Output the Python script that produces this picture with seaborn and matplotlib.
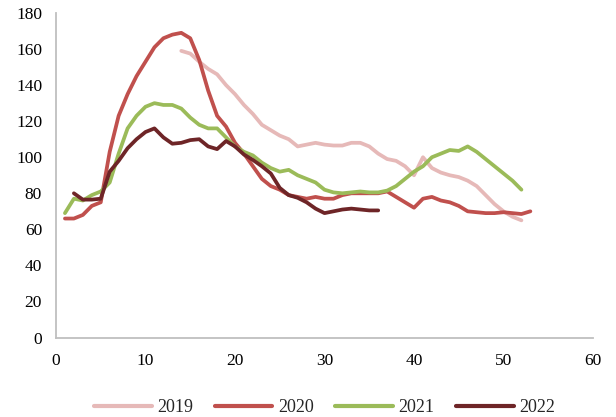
import numpy as np
import pandas as pd
import matplotlib
matplotlib.use("Agg")
import matplotlib.pyplot as plt
import seaborn as sns

# Weekly series by year
weeks_2019 = list(range(14, 53))
values_2019 = [159, 157.5, 153, 149, 146, 140, 135, 129, 124, 118, 115, 112, 110, 106,
               107, 108, 107, 106.5, 106.5, 108, 108, 106, 102, 99, 98, 95, 90, 100,
               94, 91.5, 90, 89, 87, 84, 79, 74, 70, 67, 65]

weeks_2020 = list(range(1, 54))
values_2020 = [66, 66, 68, 73, 75, 103, 123, 135, 145, 153, 161, 166, 168, 169, 166,
               154, 137, 123, 117, 108, 102, 95, 88, 84, 82, 79, 78, 77, 78, 77, 77,
               79, 80, 80, 80, 80, 81, 78, 75, 72, 77, 78, 76, 75, 73, 70, 69.5, 69,
               69, 69.5, 69, 68.5, 70]

weeks_2021 = list(range(1, 53))
values_2021 = [69, 77, 76, 79, 81, 86, 102, 116, 123, 128, 130, 129, 129, 127, 122,
               118, 116, 116, 111, 106, 103, 101, 97, 94, 92, 93, 90, 88, 86, 82,
               80.5, 80, 80.5, 81, 80.5, 80.5, 81.5, 84, 88, 92, 95, 100, 102, 104,
               103.5, 106, 103, 99, 95, 91, 87, 82]

weeks_2022 = list(range(2, 37))
values_2022 = [80, 76.5, 76.5, 77, 92, 98, 105, 110, 114, 116, 111, 107.5, 108, 109.5,
               110, 106, 104.5, 109, 106, 101.5, 98.5, 95, 91, 83, 79, 77.5, 75, 71.5,
               69, 70, 71, 71.5, 71, 70.5, 70.5]

years = ["2019", "2020", "2021", "2022"]
colors = ["#E6B9B8", "#C0504D", "#9BBB59", "#6E2527"]

frames = []
for yr, wk, val in zip(years,
                       [weeks_2019, weeks_2020, weeks_2021, weeks_2022],
                       [values_2019, values_2020, values_2021, values_2022]):
    frames.append(pd.DataFrame({"week": wk, "value": val, "year": yr}))
df = pd.concat(frames, ignore_index=True)

sns.set_style("white")
plt.rcParams["font.family"] = ["Liberation Serif", "DejaVu Serif"]

fig = plt.figure(figsize=(6.16, 4.17), dpi=100)
ax = fig.add_axes([0.0909, 0.1906, 0.8718, 0.7782])

sns.lineplot(data=df, x="week", y="value", hue="year", hue_order=years,
             palette=colors, linewidth=2.7, ax=ax, legend=True, sort=True)

ax.set_xlim(0, 60)
ax.set_ylim(0, 180)
ax.set_xticks(range(0, 61, 10))
ax.set_yticks(range(0, 181, 20))
ax.set_xlabel("")
ax.set_ylabel("")
ax.tick_params(axis="both", length=0, labelsize=12.5, colors="black")
ax.tick_params(axis="x", pad=11)
ax.tick_params(axis="y", pad=10)

for side in ["top", "right"]:
    ax.spines[side].set_visible(False)
for side in ["left", "bottom"]:
    ax.spines[side].set_color("#BFBFBF")
    ax.spines[side].set_linewidth(1.3)

leg = ax.legend(loc="upper center", bbox_to_anchor=(0.5, -0.14), ncol=4,
                frameon=False, fontsize=13, handlelength=3.2, handletextpad=0.3,
                columnspacing=1.2)
for line in leg.get_lines():
    line.set_linewidth(3)

fig.savefig("out.png", dpi=100)
